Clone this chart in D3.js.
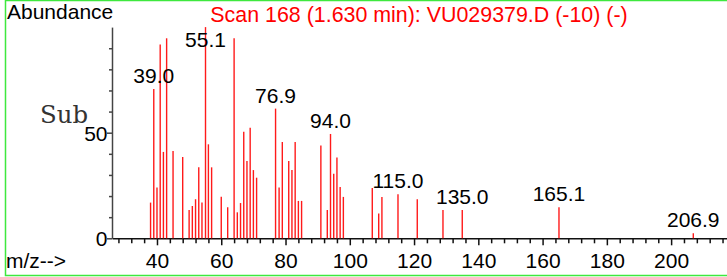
<!DOCTYPE html>
<html>
<head>
<meta charset="utf-8">
<script src="https://cdn.jsdelivr.net/npm/d3@7"></script>
<style>
  body { margin: 0; background: #fff; }
  svg text { font-family: "Liberation Sans", Arial, sans-serif; }
</style>
</head>
<body>
<div id="chart-area"></div>
<script>
// spectrum peaks (m/z and relative abundance)
var mzValues = [38, 39.0, 40, 41, 42, 43, 45, 48, 50, 51, 52, 53, 54, 55.1, 56, 57,
    60, 62, 64, 65, 66, 67, 68, 69, 70, 71, 76.9, 78, 79, 81, 82, 83, 84, 85,
    91, 93, 94.0, 95, 96, 97, 98, 107, 109, 110, 115.0, 121, 129, 135.0, 165.1, 206.9];
var abundanceValues = [16.9, 70.7, 24, 91.8, 40.9, 94.7, 41.3, 38.5, 13.4, 15.3, 18.5, 33.6, 16.9, 100, 44.5, 33.6,
    19.7, 14.7, 94.7, 12.3, 16.7, 50.5, 36.6, 52.4, 32.3, 28.7, 61.4, 24, 45.6, 36.6, 32.3, 45.6, 17.7, 17.7,
    43.9, 13.4, 49.4, 30.6, 38.3, 24.3, 19.6, 23.8, 11.7, 19.6, 20.8, 18.5, 13.4, 13.4, 14.7, 2.4];
var labelledPeaks = [39.0, 55.1, 76.9, 94.0, 115.0, 135.0, 165.1, 206.9];
var xTickValues = [40, 60, 80, 100, 120, 140, 160, 180, 200];
var yTickValues = [0, 50];
var titleText = "Scan 168 (1.630 min): VU029379.D (-10) (-)";

var width = 727, height = 277;

var svg = d3.select("#chart-area")
    .append("svg")
    .attr("width", width)
    .attr("height", height);

// green frame
svg.append("rect")
    .attr("x", 5.5)
    .attr("y", 0.5)
    .attr("width", 730)
    .attr("height", 275)
    .attr("fill", "none")
    .attr("stroke", "#3ee83e")
    .attr("stroke-width", 1.5);

var x = d3.scaleLinear().domain([26, 217.7]).range([112, 728]);
var y = d3.scaleLinear().domain([0, 100]).range([238.3, 27.1]);

// minor ticks
var xMinor = d3.range(28, 218, 4).filter(function(v) { return v % 20 != 0; });
var yMinor = d3.range(10, 100, 10).filter(function(v) { return v != 50; });

var xAxisG = svg.append("g")
    .attr("transform", "translate(0," + y(0) + ")");
xAxisG.call(d3.axisBottom(x).tickValues(xMinor).tickSize(5).tickSizeOuter(0).tickFormat(""));
xAxisG.append("g").call(d3.axisBottom(x).tickValues(xTickValues).tickSize(7).tickSizeOuter(0).tickFormat(d3.format("d")))
    .select(".domain").remove();
xAxisG.selectAll("path, line").attr("stroke", "#111").attr("stroke-width", 1.5);
xAxisG.selectAll("text")
    .attr("font-size", "21px")
    .attr("fill", "#000")
    .attr("y", 30)
    .attr("dy", 0);

var yAxisG = svg.append("g")
    .attr("transform", "translate(" + x(26) + ",0)");
yAxisG.call(d3.axisLeft(y).tickValues(yMinor).tickSize(3).tickSizeOuter(0).tickFormat(""));
yAxisG.append("g").call(d3.axisLeft(y).tickValues(yTickValues).tickSize(5).tickSizeOuter(0).tickFormat(d3.format("d")))
    .select(".domain").remove();
yAxisG.selectAll("path, line").attr("stroke", "#444").attr("stroke-width", 1.5);
yAxisG.selectAll("text")
    .attr("font-size", "21px")
    .attr("fill", "#000")
    .attr("x", -4.5)
    .attr("dy", "0.36em");

// peaks
svg.append("g").selectAll("line")
    .data(mzValues)
    .enter().append("line")
    .attr("x1", function(d) { return x(d); })
    .attr("x2", function(d) { return x(d); })
    .attr("y1", y(0))
    .attr("y2", function(d, i) { return y(abundanceValues[i]); })
    .attr("stroke", "#ff1a1a")
    .attr("stroke-width", 1.4);

// peak labels
svg.append("g").selectAll("text")
    .data(labelledPeaks)
    .enter().append("text")
    .attr("x", function(d) { return x(d); })
    .attr("y", function(d) {
        var v = abundanceValues[mzValues.indexOf(d)];
        return Math.max(y(v) - 6, 47);
    })
    .attr("text-anchor", "middle")
    .attr("font-size", "21px")
    .attr("fill", "#000")
    .text(function(d) { return d.toFixed(1); });

// title + axis captions
svg.append("text")
    .attr("x", 419)
    .attr("y", 22)
    .attr("text-anchor", "middle")
    .attr("font-size", "21.4px")
    .attr("fill", "#ff0000")
    .text(titleText);

svg.append("text")
    .attr("x", 7)
    .attr("y", 19)
    .attr("font-size", "21px")
    .attr("fill", "#000")
    .text("Abundance");

svg.append("text")
    .attr("x", 6)
    .attr("y", 268)
    .attr("font-size", "21px")
    .attr("fill", "#000")
    .text("m/z-->");

svg.append("text")
    .attr("x", 40)
    .attr("y", 123)
    .attr("font-size", "24px")
    .attr("fill", "#333")
    .style("font-family", "'DejaVu Serif', 'Courier New', serif")
    .attr("textLength", 48)
    .attr("lengthAdjust", "spacingAndGlyphs")
    .text("Sub");
</script>
</body>
</html>
